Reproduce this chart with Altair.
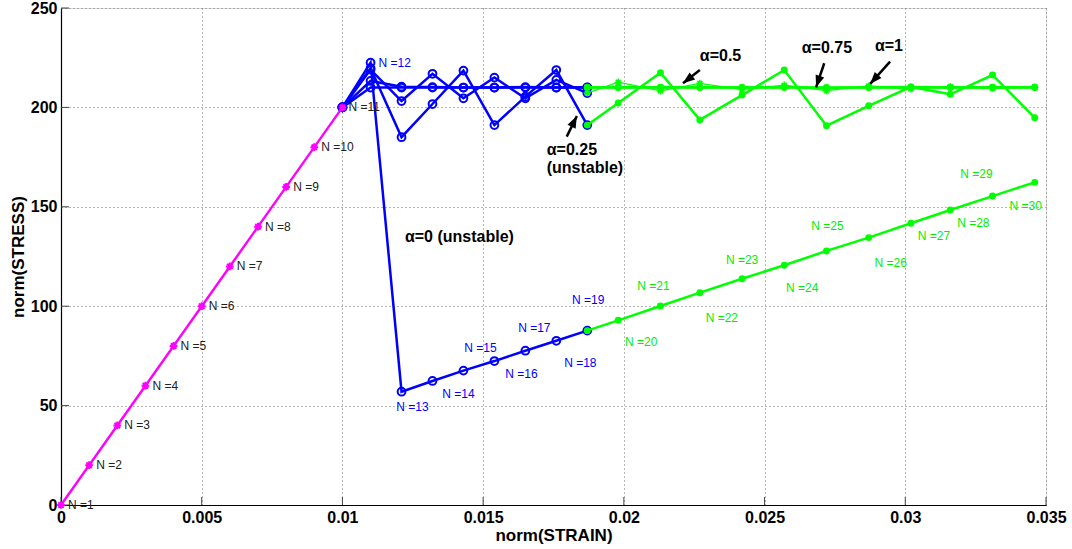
import math
import altair as alt
import pandas as pd

# ---------------- data ----------------
# elastic branch (N = 1..11), common to every alpha
N_elastic = [1, 2, 3, 4, 5, 6, 7, 8, 9, 10, 11]
strain_elastic = [0.0, 0.001, 0.002, 0.003, 0.004, 0.005, 0.006, 0.007, 0.008, 0.009, 0.010]
stress_elastic = [0, 20, 40, 60, 80, 100, 120, 140, 160, 180, 200]

# plastic branch, blue part (N = 11..19)
N_blue = [11, 12, 13, 14, 15, 16, 17, 18, 19]
strain_blue = [0.0100, 0.0110, 0.0121, 0.0132, 0.0143, 0.0154, 0.0165, 0.0176, 0.0187]
# plastic branch, green part (N = 19..30)
N_green = [19, 20, 21, 22, 23, 24, 25, 26, 27, 28, 29, 30]
strain_green = [0.0187, 0.0198, 0.0213, 0.0227, 0.0242, 0.0257, 0.0272, 0.0287,
                0.0302, 0.0316, 0.0331, 0.0346]

alphas = ["0", "0.25", "0.5", "0.75", "1"]
stress_blue_a0 = [200, 222.5, 57.0, 62.4, 67.6, 72.4, 77.6, 82.6, 87.7]
stress_blue_a025 = [200, 219.7, 185.0, 201.7, 218.5, 191.1, 205.4, 218.8, 191.1]
stress_blue_a05 = [200, 219.0, 203.2, 216.9, 204.6, 215.0, 204.6, 213.8, 207.2]
stress_blue_a075 = [200, 213.3, 210.4, 210.2, 210.0, 210.0, 210.2, 210.0, 210.1]
stress_blue_a1 = [200, 210.0, 210.0, 210.0, 210.0, 210.0, 210.0, 210.0, 210.0]

stress_green_a0 = [87.7, 92.9, 100.1, 106.8, 113.8, 120.6, 127.8, 134.5, 141.7, 148.4, 155.4, 162.3]
stress_green_a025 = [191.1, 202.2, 217.4, 193.7, 206.2, 218.8, 190.8, 200.8, 210.3, 206.6, 216.3, 194.8]
stress_green_a05 = [207.2, 212.7, 208.3, 212.1, 208.9, 211.2, 208.4, 210.8, 209.3, 210.5, 209.6, 210.3]
stress_green_a075 = [210.1, 210.1, 210.1, 210.1, 210.0, 210.2, 209.8, 210.1, 210.3, 210.0, 210.1, 210.1]
stress_green_a1 = [210.0, 210.0, 210.0, 210.0, 210.0, 210.0, 210.0, 210.0, 210.0, 210.0, 210.0, 210.0]

# "N =k" labels along the alpha = 0 path; offsets (pixels) of each label from its point
label_N = list(range(1, 31))
label_dx = [7, 7, 7, 7, 7, 7, 7, 7, 7, 7, 6, 8,
            11, 26, 17, 27, 9, 24, 1, 23, -7, 22, 0, 18, 1, 22, 23, 23, -16, -9]
label_dy = [0, 0, 0, 0, 0, 0, 0, 0, 0, 0, 0, 0,
            15, 13, -23, 13, -23, 22, -31, 22, -20, 25, -19, 23, -25, 25, 13, 13, -22, 24]

# annotations: text and arrows (tail -> head), in data units
note_text = ["\u03b1=0.5", "\u03b1=0.75", "\u03b1=1", "\u03b1=0.25", "(unstable)", "\u03b1=0 (unstable)"]
note_x = [0.02270, 0.02632, 0.02892, 0.01726, 0.01726, 0.01222]
note_y = [225.9, 229.7, 230.9, 178.6, 169.5, 134.8]
arrow_x1 = [0.02270, 0.02712, 0.02946, 0.01797]
arrow_y1 = [218.8, 222.2, 223.0, 185.3]
arrow_x2 = [0.02210, 0.02683, 0.02875, 0.01833]
arrow_y2 = [212.1, 210.1, 211.8, 195.7]

x_ticks = [0, 0.005, 0.01, 0.015, 0.02, 0.025, 0.03, 0.035]
y_ticks = [0, 50, 100, 150, 200, 250]

# ---------------- frames ----------------
W, H = 985, 497
XMAX, YMAX = 0.035, 250
sx, sy = W / XMAX, H / YMAX
FONT = "Liberation Sans"

blue_map = dict(zip(alphas, [stress_blue_a0, stress_blue_a025, stress_blue_a05, stress_blue_a075, stress_blue_a1]))
green_map = dict(zip(alphas, [stress_green_a0, stress_green_a025, stress_green_a05, stress_green_a075, stress_green_a1]))

elastic_df = pd.DataFrame({"N": N_elastic, "strain": strain_elastic, "stress": stress_elastic})
blue_rows, green_rows = [], []
for a in alphas:
    for n, e, s in zip(N_blue, strain_blue, blue_map[a]):
        blue_rows.append({"alpha": a, "N": n, "strain": e, "stress": s})
    for n, e, s in zip(N_green, strain_green, green_map[a]):
        green_rows.append({"alpha": a, "N": n, "strain": e, "stress": s})
blue_df = pd.DataFrame(blue_rows)
green_df = pd.DataFrame(green_rows)

# label positions: along the alpha = 0 path
path_strain = strain_elastic + strain_blue[1:] + strain_green[1:]
path_stress = stress_elastic + stress_blue_a0[1:] + stress_green_a0[1:]
lab_rows = []
for n, e, s, dx, dy in zip(label_N, path_strain, path_stress, label_dx, label_dy):
    if n <= 11:
        col, grp = "#202020", "left"
    elif n == 12:
        col, grp = "#0000ff", "left"
    elif n <= 19:
        col, grp = "#0000ff", "center"
    else:
        col, grp = "#00ee00", "center"
    lab_rows.append({"txt": f"N ={n}", "lx": e + dx / sx, "ly": s - dy / sy,
                     "col": col, "grp": grp})
lab_df = pd.DataFrame(lab_rows)

note_df = pd.DataFrame({"txt": note_text, "x": note_x, "y": note_y})
arr_rows = []
for x1, y1, x2, y2 in zip(arrow_x1, arrow_y1, arrow_x2, arrow_y2):
    ddx = (x2 - x1) * sx
    ddy = -(y2 - y1) * sy
    ang = math.degrees(math.atan2(ddx, -ddy)) % 360
    arr_rows.append({"x1": x1, "y1": y1, "x2": x2, "y2": y2, "ang": ang})
arr_df = pd.DataFrame(arr_rows)

xt_df = pd.DataFrame({"v": x_ticks})
yt_df = pd.DataFrame({"v": y_ticks})

# ---------------- encodings ----------------
xscale = alt.Scale(domain=[0, XMAX], nice=False, zero=False)
yscale = alt.Scale(domain=[0, YMAX], nice=False, zero=False)
axis_common = dict(labelFont=FONT, labelFontSize=16, labelFontWeight="bold", labelColor="black",
                   titleFont=FONT, titleFontSize=17, titleFontWeight="bold", titleColor="black",
                   grid=True, gridDash=[1, 3], gridColor="#6e6e6e", gridWidth=1,
                   ticks=False, domainColor="black", domainWidth=1.2, labelFlush=False)
X = lambda f: alt.X(f, type="quantitative", scale=xscale,
                    axis=alt.Axis(values=x_ticks, format=".3~f", title="norm(STRAIN)",
                                  labelPadding=4, titlePadding=2, **axis_common))
Y = lambda f: alt.Y(f, type="quantitative", scale=yscale,
                    axis=alt.Axis(values=y_ticks, title="norm(STRESS)", labelPadding=4,
                                  titlePadding=3, **axis_common))

ASTER = "M-1,0L1,0M0,-1L0,1M-0.7,-0.7L0.7,0.7M-0.7,0.7L0.7,-0.7"
HEAD = "M0,0L0.9,2.4L-0.9,2.4Z"

blue_lines = alt.Chart(blue_df).mark_line(color="#0000ff", strokeWidth=2.5).encode(
    x=X("strain"), y=Y("stress"), detail="alpha:N", order="N:Q")
blue_pts = alt.Chart(blue_df).mark_point(shape="circle", filled=False, color="#0000ff",
                                         strokeWidth=2, size=60, opacity=1).encode(
    x=X("strain"), y=Y("stress"))

green_thick = green_df[green_df["alpha"] != "0.5"]
green_thin = green_df[green_df["alpha"] == "0.5"]
green_lines = alt.Chart(green_thick).mark_line(color="#00ff00", strokeWidth=2.5).encode(
    x=X("strain"), y=Y("stress"), detail="alpha:N", order="N:Q")
green_dots = alt.Chart(green_thick).mark_circle(color="#00ff00", size=48, opacity=1).encode(
    x=X("strain"), y=Y("stress"))
green_thin_line = alt.Chart(green_thin).mark_line(color="#00ff00", strokeWidth=1.2).encode(
    x=X("strain"), y=Y("stress"), order="N:Q")
green_aster = alt.Chart(green_thin).mark_point(shape=ASTER, filled=False, color="#00ff00",
                                               strokeWidth=1.5, size=50, opacity=1).encode(
    x=X("strain"), y=Y("stress"))

mag_line = alt.Chart(elastic_df).mark_line(color="#ff00ff", strokeWidth=2.4).encode(
    x=X("strain"), y=Y("stress"), order="N:Q")
mag_pts = alt.Chart(elastic_df).mark_point(shape=ASTER, filled=False, color="#ff00ff",
                                           strokeWidth=2, size=60, opacity=1).encode(
    x=X("strain"), y=Y("stress"))

lab_left = alt.Chart(lab_df[lab_df["grp"] == "left"]).mark_text(
    font=FONT, fontSize=12, align="left", baseline="middle").encode(
    x=X("lx"), y=Y("ly"), text="txt:N", color=alt.Color("col:N", scale=None))
lab_center = alt.Chart(lab_df[lab_df["grp"] == "center"]).mark_text(
    font=FONT, fontSize=12, align="center", baseline="middle").encode(
    x=X("lx"), y=Y("ly"), text="txt:N", color=alt.Color("col:N", scale=None))

notes = alt.Chart(note_df).mark_text(font=FONT, fontSize=16, fontWeight="bold", align="left",
                                     baseline="middle", color="black").encode(
    x=X("x"), y=Y("y"), text="txt:N")
shafts = alt.Chart(arr_df).mark_rule(color="black", strokeWidth=2.5).encode(
    x=X("x1"), y=Y("y1"), x2="x2:Q", y2="y2:Q")
heads = alt.Chart(arr_df).mark_point(shape=HEAD, filled=True, color="black", size=100,
                                     opacity=1).encode(
    x=X("x2"), y=Y("y2"), angle=alt.Angle("ang:Q", scale=None))

xticks = alt.Chart(xt_df).mark_rule(color="#444", strokeWidth=1).encode(
    x=X("v"), y=alt.value(H), y2=alt.value(H - 8))
yticks = alt.Chart(yt_df).mark_rule(color="#444", strokeWidth=1).encode(
    y=Y("v"), x=alt.value(0), x2=alt.value(8))

chart = alt.layer(
    xticks, yticks,
    blue_lines, blue_pts,
    green_thin_line, green_aster, green_lines, green_dots,
    mag_line, mag_pts,
    lab_left, lab_center,
    shafts, heads, notes,
).properties(
    width=W, height=H,
    autosize=alt.AutoSizeParams(type="none"),
    padding={"left": 61, "top": 8, "right": 26, "bottom": 44},
).configure_view(stroke=None).configure(background="white")

chart.save("out.html", embed_options={"renderer": "svg", "actions": False})
